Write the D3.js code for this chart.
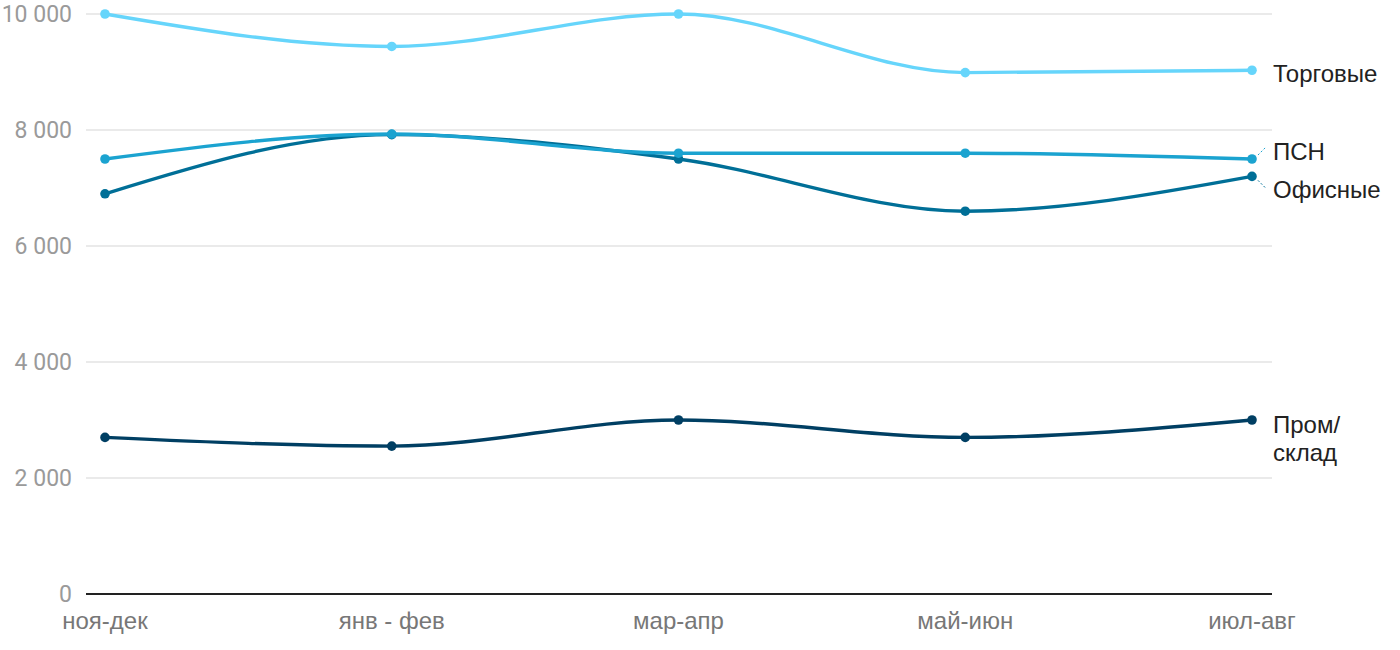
<!DOCTYPE html>
<html><head><meta charset="utf-8">
<script src="https://cdn.jsdelivr.net/npm/d3@7"></script>
<style>body{margin:0;background:#fff;font-family:Roboto,sans-serif}</style>
</head><body><svg id="c" width="1400" height="650"></svg>
<script>
const categories = ["ноя-дек","янв - фев","мар-апр","май-июн","июл-авг"];
const torgovye = [10000, 9440, 10000, 8990, 9030];
const psn = [7500, 7930, 7600, 7600, 7500];
const ofisnye = [6900, 7920, 7500, 6600, 7200];
const promsklad = [2700, 2550, 3000, 2700, 3000];
const yTicks = [0, 2000, 4000, 6000, 8000, 10000];
const seriesNames = [["Торговые"],["ПСН"],["Офисные"],["Пром/","склад"]];

const series = [
  {name: seriesNames[3], values: promsklad, color: "#003f63", labelY: 425, lead: false},
  {name: seriesNames[2], values: ofisnye, color: "#006f97", labelY: 190, lead: true},
  {name: seriesNames[1], values: psn, color: "#1ba3d0", labelY: 152, lead: true},
  {name: seriesNames[0], values: torgovye, color: "#66d5fb", labelY: 74, lead: false}
];

const svg = d3.select("#c");
const mLeft = 86, mRight = 1272, mTop = 14, mBottom = 594;
const x = d3.scalePoint().domain(categories).range([105, 1252]);
const y = d3.scaleLinear().domain([0, 10000]).range([mBottom, mTop]);

const fmt = v => d3.format(",")(v).replace(/,/g, " ");

// grid
svg.append("g").selectAll("line").data(yTicks.filter(d => d > 0)).join("line")
  .attr("x1", mLeft).attr("x2", mRight).attr("y1", d => y(d)).attr("y2", d => y(d))
  .attr("stroke", "#e3e3e3").attr("stroke-width", 1.5);
svg.append("line").attr("x1", mLeft).attr("x2", mRight).attr("y1", y(0)).attr("y2", y(0))
  .attr("stroke", "#222").attr("stroke-width", 2);

// y labels
svg.append("g").selectAll("text").data(yTicks).join("text")
  .attr("x", 72).attr("y", d => y(d)).attr("dy", "0.35em").attr("text-anchor", "end")
  .attr("font-size", 23).attr("fill", "#9a9a9a").text(fmt);

// x labels
svg.append("g").selectAll("text").data(categories).join("text")
  .attr("x", d => x(d)).attr("y", 621).attr("dy", "0.35em").attr("text-anchor", "middle")
  .attr("font-family", "'Liberation Sans', Arial, sans-serif")
  .attr("font-size", 24).attr("fill", "#777").text(d => d);

const line = d3.line().x((d, i) => x(categories[i])).y(d => y(d)).curve(d3.curveMonotoneX);

series.forEach(s => {
  svg.append("path").attr("d", line(s.values)).attr("fill", "none")
    .attr("stroke", s.color).attr("stroke-width", 3.4);
  svg.append("g").selectAll("circle").data(s.values).join("circle")
    .attr("cx", (d, i) => x(categories[i])).attr("cy", d => y(d)).attr("r", 4.8)
    .attr("fill", s.color);
  const lastY = y(s.values[s.values.length - 1]);
  if (s.lead) {
    const down = s.labelY > lastY;
    svg.append("line").attr("x1", 1258).attr("y1", lastY + (down ? 4 : -4))
      .attr("x2", 1266).attr("y2", lastY + (down ? 12 : -12))
      .attr("stroke", s.color).attr("stroke-width", 1).attr("stroke-dasharray", "2,2");
  }
  const t = svg.append("text").attr("x", 1273).attr("y", s.labelY)
    .attr("font-family", "'Liberation Sans', Arial, sans-serif")
    .attr("font-size", 24).attr("fill", "#222");
  s.name.forEach((n, i) => t.append("tspan").attr("x", 1273).attr("dy", i === 0 ? "0.35em" : "1.15em").text(n));
});
</script></body></html>
